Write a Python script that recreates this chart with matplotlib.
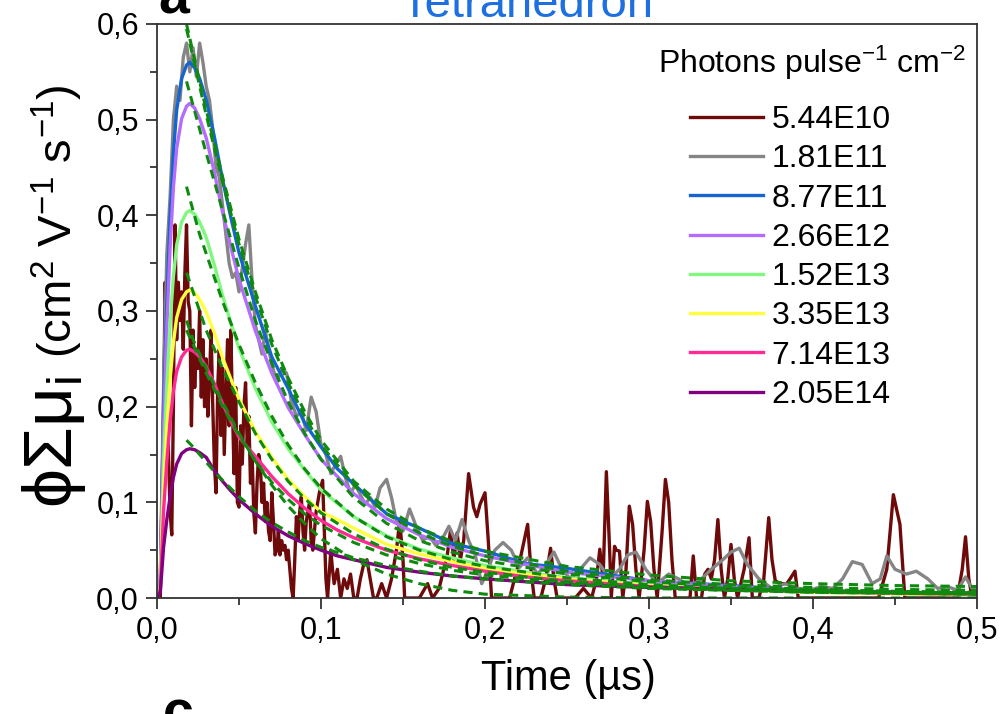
import matplotlib
matplotlib.use("Agg")
import matplotlib.pyplot as plt
from matplotlib.ticker import MultipleLocator, FuncFormatter

plt.rcParams["font.family"] = ["Liberation Sans", "DejaVu Sans"]
plt.rcParams["mathtext.fontset"] = "custom"
plt.rcParams["mathtext.rm"] = "Liberation Sans"
plt.rcParams["mathtext.it"] = "Liberation Sans:italic"

# ---- data ----
labels = ["5.44E10", "1.81E11", "8.77E11", "2.66E12",
          "1.52E13", "3.35E13", "7.14E13", "2.05E14"]
colors = ["#6E0A0A", "#858585", "#1565D0", "#B46CFF",
          "#80F880", "#FFFF40", "#FF2A93", "#800080"]

# smooth curves share one time grid (us)
t_smooth = [0, 0.002, 0.004, 0.006, 0.008, 0.010, 0.012, 0.015, 0.018, 0.020,
            0.023, 0.026, 0.030, 0.035, 0.040, 0.045, 0.050, 0.060, 0.070, 0.080,
            0.090, 0.100, 0.110, 0.120, 0.140, 0.160, 0.180, 0.200, 0.225, 0.250,
            0.300, 0.350, 0.400, 0.450, 0.500]
blue_877e11 = [0, 0.017, 0.196, 0.308, 0.398, 0.465, 0.510, 0.543, 0.557, 0.560,
               0.554, 0.543, 0.521, 0.482, 0.437, 0.398, 0.361, 0.305, 0.252, 0.219,
               0.183, 0.158, 0.135, 0.119, 0.088, 0.073, 0.057, 0.049, 0.036, 0.031,
               0.018, 0.013, 0.007, 0.006, 0.003]
violet_266e12 = [0, 0.016, 0.181, 0.284, 0.367, 0.429, 0.470, 0.501, 0.514, 0.517,
                 0.512, 0.501, 0.481, 0.445, 0.403, 0.367, 0.333, 0.279, 0.235, 0.199,
                 0.171, 0.145, 0.127, 0.109, 0.083, 0.066, 0.053, 0.044, 0.035, 0.027,
                 0.018, 0.012, 0.008, 0.006, 0.004]
green_152e13 = [0, 0.012, 0.142, 0.223, 0.288, 0.336, 0.369, 0.393, 0.403, 0.405,
                0.401, 0.393, 0.377, 0.348, 0.316, 0.288, 0.261, 0.219, 0.184, 0.156,
                0.134, 0.113, 0.099, 0.085, 0.065, 0.051, 0.042, 0.034, 0.027, 0.021,
                0.014, 0.009, 0.006, 0.0045, 0.003]
yellow_335e13 = [0, 0.010, 0.113, 0.177, 0.229, 0.267, 0.293, 0.312, 0.320, 0.322,
                 0.319, 0.312, 0.299, 0.277, 0.251, 0.229, 0.208, 0.174, 0.147, 0.124,
                 0.106, 0.090, 0.082, 0.073, 0.056, 0.046, 0.038, 0.031, 0.025, 0.020,
                 0.013, 0.009, 0.006, 0.0045, 0.0035]
pink_714e13 = [0, 0.008, 0.091, 0.143, 0.185, 0.216, 0.237, 0.252, 0.259, 0.260,
               0.257, 0.252, 0.242, 0.224, 0.203, 0.185, 0.168, 0.148, 0.127, 0.109,
               0.094, 0.081, 0.071, 0.063, 0.050, 0.041, 0.034, 0.028, 0.022, 0.018,
               0.012, 0.009, 0.007, 0.005, 0.004]
purple_205e14 = [0, 0.006, 0.053, 0.082, 0.106, 0.126, 0.140, 0.151, 0.155, 0.156,
                 0.155, 0.152, 0.147, 0.133, 0.122, 0.112, 0.103, 0.088, 0.075, 0.065,
                 0.057, 0.050, 0.044, 0.040, 0.032, 0.027, 0.023, 0.020, 0.017, 0.014,
                 0.011, 0.009, 0.007, 0.006, 0.005]

# noisy 1.81E11 trace
t_gray = [0, 0.002, 0.004, 0.006, 0.008, 0.010, 0.012, 0.014, 0.016, 0.018, 0.020,
          0.022, 0.024, 0.026, 0.028, 0.030, 0.032, 0.034, 0.036, 0.038, 0.040,
          0.042, 0.044, 0.046, 0.048, 0.050, 0.052, 0.054, 0.056, 0.058, 0.060,
          0.062, 0.064, 0.066, 0.068, 0.070, 0.073, 0.076, 0.079, 0.082, 0.085,
          0.088, 0.091, 0.094, 0.097, 0.100, 0.103, 0.106, 0.109, 0.112, 0.115,
          0.118, 0.121, 0.124, 0.127, 0.130, 0.133, 0.136, 0.140, 0.143, 0.146,
          0.150, 0.154, 0.158, 0.162, 0.166, 0.170, 0.174, 0.178, 0.182, 0.186,
          0.190, 0.194, 0.198, 0.202, 0.206, 0.211, 0.216, 0.221, 0.226, 0.232,
          0.237, 0.242, 0.247, 0.252, 0.258, 0.264, 0.270, 0.276, 0.282, 0.287,
          0.292, 0.298, 0.305, 0.312, 0.318, 0.325, 0.332, 0.338, 0.345, 0.350,
          0.355, 0.360, 0.367, 0.375, 0.383, 0.390, 0.398, 0.405, 0.412, 0.418,
          0.424, 0.430, 0.436, 0.441, 0.445, 0.450, 0.457, 0.463, 0.470, 0.476,
          0.482, 0.488, 0.493, 0.497, 0.500]
gray_181e11 = [0, 0.02, 0.22, 0.36, 0.42, 0.50, 0.535, 0.52, 0.565, 0.58, 0.55,
               0.575, 0.545, 0.58, 0.56, 0.535, 0.52, 0.49, 0.45, 0.44, 0.41,
               0.38, 0.35, 0.335, 0.34, 0.32, 0.345, 0.37, 0.39, 0.33, 0.285,
               0.27, 0.255, 0.28, 0.26, 0.245, 0.225, 0.24, 0.235, 0.205, 0.19,
               0.195, 0.175, 0.21, 0.195, 0.16, 0.15, 0.13, 0.14, 0.148, 0.125,
               0.11, 0.118, 0.108, 0.098, 0.105, 0.095, 0.115, 0.124, 0.105, 0.08,
               0.07, 0.093, 0.075, 0.06, 0.065, 0.055, 0.062, 0.075, 0.06, 0.082,
               0.06, 0.045, 0.015, 0.03, 0.05, 0.058, 0.05, 0.032, 0.042, 0.025,
               0.035, 0.048, 0.03, 0.02, 0.03, 0.042, 0.035, 0.02, 0.03, 0.045,
               0.048, 0.03, 0.015, 0.025, 0.02, 0.012, 0.02, 0.03, 0.04, 0.048,
               0.052, 0.035, 0.02, 0.01, 0.015, 0.01, 0.008, 0.012, 0.01, 0.02,
               0.038, 0.035, 0.015, 0.02, 0.044, 0.03, 0.025, 0.028, 0.02, 0.01,
               0.012, 0.008, 0.022, 0.01, 0.012]

# very noisy 5.44E10 trace
t_red = [0, 0.002, 0.003, 0.004, 0.005, 0.006, 0.007, 0.008, 0.009, 0.010, 0.011,
         0.012, 0.013, 0.014, 0.015, 0.016, 0.017, 0.018, 0.019, 0.020, 0.021,
         0.022, 0.023, 0.024, 0.025, 0.026, 0.027, 0.028, 0.029, 0.030, 0.031,
         0.032, 0.033, 0.034, 0.035, 0.036, 0.037, 0.038, 0.039, 0.040, 0.041,
         0.042, 0.043, 0.044, 0.045, 0.046, 0.047, 0.048, 0.049, 0.050, 0.051,
         0.052, 0.053, 0.054, 0.055, 0.056, 0.057, 0.058, 0.059, 0.060, 0.061,
         0.062, 0.063, 0.064, 0.065, 0.066, 0.067, 0.068, 0.069, 0.070, 0.071,
         0.072, 0.073, 0.074, 0.075, 0.076, 0.077, 0.078, 0.079, 0.080, 0.081,
         0.082, 0.083, 0.084, 0.085, 0.086, 0.087, 0.088, 0.089, 0.090, 0.091,
         0.093, 0.094, 0.095, 0.097, 0.099, 0.101, 0.102, 0.103, 0.104, 0.106,
         0.107, 0.108, 0.110, 0.112, 0.114, 0.116, 0.118, 0.120, 0.122, 0.124,
         0.126, 0.128, 0.130, 0.132, 0.134, 0.137, 0.140, 0.143, 0.146, 0.148,
         0.150, 0.151, 0.155, 0.160, 0.165, 0.168, 0.172, 0.174, 0.177, 0.179,
         0.181, 0.183, 0.185, 0.187, 0.190, 0.193, 0.195, 0.197, 0.200, 0.202,
         0.204, 0.210, 0.215, 0.218, 0.222, 0.226, 0.228, 0.230, 0.234, 0.237,
         0.240, 0.242, 0.244, 0.250, 0.255, 0.260, 0.265, 0.268, 0.270, 0.272,
         0.274, 0.276, 0.277, 0.279, 0.280, 0.282, 0.284, 0.286, 0.288, 0.290,
         0.292, 0.294, 0.297, 0.299, 0.301, 0.303, 0.305, 0.308, 0.310, 0.312,
         0.314, 0.316, 0.320, 0.325, 0.327, 0.329, 0.332, 0.334, 0.336, 0.338,
         0.340, 0.342, 0.344, 0.346, 0.348, 0.350, 0.352, 0.354, 0.358, 0.361,
         0.363, 0.367, 0.370, 0.373, 0.375, 0.377, 0.380, 0.384, 0.386, 0.389,
         0.391, 0.400, 0.420, 0.440, 0.445, 0.449, 0.453, 0.456, 0.470, 0.488,
         0.491, 0.493, 0.495, 0.497, 0.500]
red_544e10 = [0, 0, 0.10, 0.20, 0.33, 0.25, 0.15, 0.09, 0.066, 0.20, 0.39,
              0.27, 0.33, 0.29, 0.32, 0.26, 0.34, 0.39, 0.31, 0.30, 0.18,
              0.28, 0.22, 0.26, 0.24, 0.30, 0.21, 0.27, 0.20, 0.25, 0.19,
              0.23, 0.28, 0.20, 0.14, 0.11, 0.22, 0.26, 0.17, 0.24, 0.15,
              0.21, 0.27, 0.18, 0.28, 0.20, 0.13, 0.22, 0.10, 0.095, 0.18,
              0.14, 0.20, 0.225, 0.16, 0.19, 0.12, 0.15, 0.09, 0.068, 0.12,
              0.15, 0.14, 0.10, 0.12, 0.08, 0.10, 0.07, 0.06, 0.11, 0.08,
              0.045, 0.05, 0.07, 0.045, 0.06, 0.05, 0.055, 0.04, 0.05, 0.03,
              0.01, 0.0, 0.04, 0.085, 0.06, 0.09, 0.106, 0.07, 0.05, 0.08,
              0.10, 0.06, 0.05, 0.09, 0.11, 0.123, 0.07, 0.02, 0.0, 0.05,
              0.03, 0.015, 0.03, 0.0, 0.02, 0.01, 0.025, 0.0, 0.0, 0.02,
              0.035, 0.04, 0.02, 0.0, 0.0, 0.015, 0.0, 0.02, 0.05, 0.081,
              0.04, 0.0, 0.0, 0.0, 0.015, 0.0, 0.01, 0.024, 0.045, 0.071,
              0.04, 0.068, 0.04, 0.06, 0.13, 0.095, 0.085, 0.098, 0.11, 0.06,
              0.0, 0.0, 0.0, 0.02, 0.045, 0.077, 0.03, 0.0, 0.0, 0.02,
              0.052, 0.02, 0.0, 0.0, 0.0, 0.01, 0.0, 0.02, 0.051, 0.02,
              0.132, 0.05, 0.0, 0.054, 0.05, 0.049, 0.0, 0.03, 0.096, 0.077,
              0.03, 0.0, 0.05, 0.101, 0.08, 0.03, 0.0, 0.07, 0.124, 0.10,
              0.04, 0.0, 0.0, 0.0, 0.044, 0.0, 0.0, 0.025, 0.03, 0.02,
              0.04, 0.082, 0.03, 0.0, 0.02, 0.056, 0.02, 0.0, 0.03, 0.063,
              0.0, 0.0, 0.02, 0.084, 0.04, 0.018, 0.015, 0.015, 0.02, 0.028,
              0.0, 0.0, 0.0, 0.0, 0.03, 0.108, 0.077, 0.0, 0.0, 0.0,
              0.03, 0.064, 0.02, 0.0, 0.0]

# fitted curves (dashed), one per series, same order as labels
t_fit = [0.018, 0.022, 0.026, 0.030, 0.035, 0.040, 0.050, 0.060, 0.070, 0.080,
         0.090, 0.100, 0.120, 0.140, 0.160, 0.180, 0.200, 0.250, 0.300, 0.350,
         0.400, 0.450, 0.500]
fits = [
    [0.290, 0.270, 0.255, 0.240, 0.222, 0.205, 0.172, 0.143, 0.118, 0.096,
     0.078, 0.062, 0.040, 0.025, 0.015, 0.008, 0.004, 0.001, 0, 0, 0, 0, 0],
    [0.600, 0.570, 0.540, 0.510, 0.475, 0.440, 0.375, 0.320, 0.270, 0.230,
     0.195, 0.165, 0.122, 0.093, 0.073, 0.059, 0.049, 0.033, 0.024, 0.018,
     0.015, 0.013, 0.012],
    [0.595, 0.565, 0.535, 0.505, 0.470, 0.435, 0.370, 0.315, 0.265, 0.225,
     0.190, 0.160, 0.118, 0.088, 0.068, 0.054, 0.044, 0.028, 0.019, 0.014,
     0.011, 0.009, 0.008],
    [0.540, 0.515, 0.490, 0.465, 0.435, 0.405, 0.345, 0.290, 0.245, 0.205,
     0.172, 0.145, 0.105, 0.078, 0.060, 0.048, 0.039, 0.025, 0.017, 0.012,
     0.009, 0.007, 0.006],
    [0.430, 0.405, 0.380, 0.360, 0.335, 0.310, 0.265, 0.225, 0.190, 0.160,
     0.135, 0.115, 0.085, 0.064, 0.050, 0.040, 0.033, 0.021, 0.014, 0.010,
     0.008, 0.006, 0.005],
    [0.340, 0.320, 0.300, 0.280, 0.260, 0.240, 0.205, 0.172, 0.145, 0.122,
     0.104, 0.089, 0.067, 0.051, 0.040, 0.032, 0.027, 0.017, 0.012, 0.009,
     0.007, 0.006, 0.005],
    [0.280, 0.265, 0.250, 0.235, 0.218, 0.200, 0.170, 0.143, 0.121, 0.103,
     0.088, 0.076, 0.058, 0.045, 0.036, 0.029, 0.024, 0.016, 0.011, 0.008,
     0.006, 0.005, 0.004],
    [0.165, 0.158, 0.150, 0.142, 0.132, 0.123, 0.106, 0.091, 0.079, 0.069,
     0.060, 0.053, 0.042, 0.034, 0.028, 0.023, 0.020, 0.014, 0.010, 0.008,
     0.006, 0.005, 0.004],
]

W, H = 1004, 714
fig = plt.figure(figsize=(W / 100, H / 100), dpi=100)
ax = fig.add_axes([157 / W, 1 - 598 / H, 820 / W, 574 / H])

lw = 2.4
lines = {}
lines[0], = ax.plot(t_red, red_544e10, color=colors[0], lw=lw)
lines[1], = ax.plot(t_gray, gray_181e11, color=colors[1], lw=lw)
smooth = [blue_877e11, violet_266e12, green_152e13, yellow_335e13,
          pink_714e13, purple_205e14]
for i, ys in enumerate(smooth, start=2):
    lines[i], = ax.plot(t_smooth, ys, color=colors[i], lw=lw)
for ys in fits:
    ax.plot(t_fit, ys, color="#0F8A0F", lw=2.2, dashes=(3.0, 2.0))

ax.set_xlim(0, 0.5)
ax.set_ylim(0, 0.6)
ax.xaxis.set_major_locator(MultipleLocator(0.1))
ax.xaxis.set_minor_locator(MultipleLocator(0.05))
ax.yaxis.set_major_locator(MultipleLocator(0.1))
ax.yaxis.set_minor_locator(MultipleLocator(0.05))
comma = FuncFormatter(lambda v, p: f"{v:.1f}".replace(".", ","))
ax.xaxis.set_major_formatter(comma)
ax.yaxis.set_major_formatter(comma)
ax.tick_params(which="both", direction="out", top=False, right=False,
               width=1.3, color="#333333", labelsize=22)
ax.tick_params(which="major", length=8, pad=5)
ax.tick_params(which="minor", length=5)
for s in ax.spines.values():
    s.set_linewidth(1.3)
    s.set_color("#333333")

ax.legend([lines[i] for i in range(8)], labels, frameon=False,
          loc="upper left", bbox_to_anchor=(690 / W, 1 - 105 / H),
          bbox_transform=fig.transFigure, fontsize=23, handlelength=2.3,
          handletextpad=0.25, labelspacing=0.29, borderpad=0,
          borderaxespad=0)
fig.text(658 / W, 1 - 73 / H, r"Photons pulse$\mathregular{^{-1}}$ cm$\mathregular{^{-2}}$",
         fontsize=23, ha="left", va="baseline")

fig.text(527 / W, 1 - 17 / H, "Tetrahedron", color="#1E6FE0",
         fontsize=34, ha="center", va="baseline")
fig.text(158 / W, 1 - 13 / H, "a", fontsize=40, fontweight="bold",
         ha="left", va="baseline")
fig.text(163 / W, 1 - 730 / H, "c", fontsize=40, fontweight="bold",
         ha="left", va="baseline")

fig.text(568 / W, 1 - 690 / H, "Time (µs)", fontsize=30, ha="center",
         va="baseline")
fig.text(72 / W, 1 - 508 / H, r"ϕΣμ$\mathregular{_i}$", fontsize=50,
         rotation=90, rotation_mode="anchor", ha="left", va="baseline")
fig.text(72 / W, 1 - 358 / H,
         r"(cm$\mathregular{^2}$ V$\mathregular{^{-1}}$ s$\mathregular{^{-1}}$)",
         fontsize=34, rotation=90, rotation_mode="anchor", ha="left",
         va="baseline")

fig.savefig("out.png", dpi=100)
